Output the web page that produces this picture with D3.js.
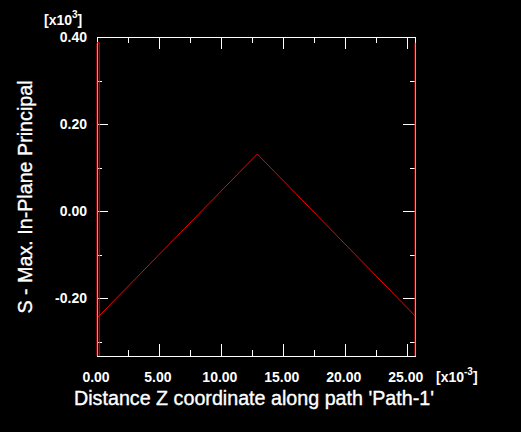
<!DOCTYPE html>
<html><head><meta charset="utf-8">
<script src="https://cdn.jsdelivr.net/npm/d3@7"></script>
<style>
html,body{margin:0;padding:0;background:#000;}
svg{display:block;}
text{font-family:"Liberation Sans",Arial,sans-serif;fill:#fff;}
</style></head>
<body>
<script>
// Data (x in 1e-3, y in 1e3)
const mainX = [0.08, 12.94, 25.67];
const mainY = [-0.244, 0.131, -0.241];
const leftSpikeX = [0.00, 0.00, 0.18, 0.18];
const leftSpikeY = [-0.333, 0.387, 0.387, -0.333];
const rightSpikeX = [25.67, 25.67];
const rightSpikeY = [0.387, -0.333];
const xMajorTicks = [0, 5, 10, 15, 20, 25];
const xMinorTicks = [2.5, 7.5, 12.5, 17.5, 22.5];
const yMajorTicks = [-0.2, 0.0, 0.2, 0.4];
const yMinorTicks = [-0.3, -0.1, 0.1, 0.3];
const xDomain = [0, 25.67];
const yDomain = [-0.3333, 0.40];

const W = 521, H = 432;
const L = 97, R = 415, T = 37, B = 356;

const svg = d3.select("body").append("svg").attr("width", W).attr("height", H);
svg.append("rect").attr("width", W).attr("height", H).attr("fill", "#000");

const x = d3.scaleLinear().domain(xDomain).range([L, R]);
const y = d3.scaleLinear().domain(yDomain).range([B, T]);

const axisG = svg.append("g").attr("stroke", "#fff").attr("stroke-width", 1).attr("shape-rendering", "crispEdges");
function tickAxis(g, axisFn, scale, ticks, size) {
  g.call(axisFn(scale).tickValues(ticks).tickSize(size).tickFormat("").tickSizeOuter(0));
  g.select(".domain").attr("stroke", "#fff");
  g.selectAll(".tick line").attr("stroke", "#fff");
}
tickAxis(axisG.append("g").attr("transform", `translate(0,${B})`), d3.axisTop, x, xMajorTicks, 12);
tickAxis(axisG.append("g").attr("transform", `translate(0,${B})`), d3.axisTop, x, xMinorTicks, 6);
tickAxis(axisG.append("g").attr("transform", `translate(0,${T})`), d3.axisBottom, x, xMajorTicks, 12);
tickAxis(axisG.append("g").attr("transform", `translate(0,${T})`), d3.axisBottom, x, xMinorTicks, 6);
tickAxis(axisG.append("g").attr("transform", `translate(${L},0)`), d3.axisRight, y, yMajorTicks, 11);
tickAxis(axisG.append("g").attr("transform", `translate(${L},0)`), d3.axisRight, y, yMinorTicks, 5);
tickAxis(axisG.append("g").attr("transform", `translate(${R},0)`), d3.axisLeft, y, yMajorTicks, 12);
tickAxis(axisG.append("g").attr("transform", `translate(${R},0)`), d3.axisLeft, y, yMinorTicks, 5);
axisG.append("rect").attr("x", L).attr("y", T).attr("width", R - L).attr("height", B - T)
  .attr("fill", "none").attr("stroke", "#fff");

const fmt = d3.formatLocale({decimal: ".", thousands: ",", grouping: [3], currency: ["", ""], minus: "-"}).format(".2f");
svg.append("g").selectAll("text").data(xMajorTicks).join("text")
  .attr("x", d => x(d) - 1).attr("y", 382).attr("text-anchor", "middle")
  .attr("font-size", 14).attr("font-weight", "bold").text(d => fmt(d));
svg.append("g").selectAll("text").data(yMajorTicks).join("text")
  .attr("x", 87).attr("y", d => y(d) + 5).attr("text-anchor", "end")
  .attr("font-size", 14).attr("font-weight", "bold").text(d => fmt(d));

const ty = svg.append("text").attr("x", 44).attr("y", 25).attr("font-size", 14).attr("font-weight", "bold");
ty.append("tspan").text("[x10");
ty.append("tspan").attr("dy", -7).attr("font-size", 10).text("3");
ty.append("tspan").attr("dy", 7).text("]");
const tx = svg.append("text").attr("x", 436).attr("y", 382).attr("font-size", 14).attr("font-weight", "bold");
tx.append("tspan").text("[x10");
tx.append("tspan").attr("dy", -7).attr("font-size", 10).text("-3");
tx.append("tspan").attr("dy", 7).text("]");

svg.append("text").attr("x", 254).attr("y", 405).attr("text-anchor", "middle")
  .attr("font-size", 19.7).attr("stroke", "#fff").attr("stroke-width", 0.35)
  .text("Distance Z coordinate along path 'Path-1'");
svg.append("text").attr("transform", "translate(32,197) rotate(-90)").attr("text-anchor", "middle")
  .attr("font-size", 19.7).attr("stroke", "#fff").attr("stroke-width", 0.35)
  .text("S - Max. In-Plane Principal");

svg.append("clipPath").attr("id", "clip").append("rect")
  .attr("x", L - 1).attr("y", T).attr("width", R - L + 2).attr("height", B - T);
const line = d3.line().x(d => x(d[0])).y(d => y(d[1]));
const series = [
  d3.zip(leftSpikeX, leftSpikeY),
  d3.zip(mainX, mainY),
  d3.zip(rightSpikeX, rightSpikeY)
];
svg.append("g").attr("clip-path", "url(#clip)").selectAll("path").data(series).join("path")
  .attr("d", line).attr("fill", "none").attr("stroke", "#f00000").attr("stroke-width", 1);
</script>
</body></html>
